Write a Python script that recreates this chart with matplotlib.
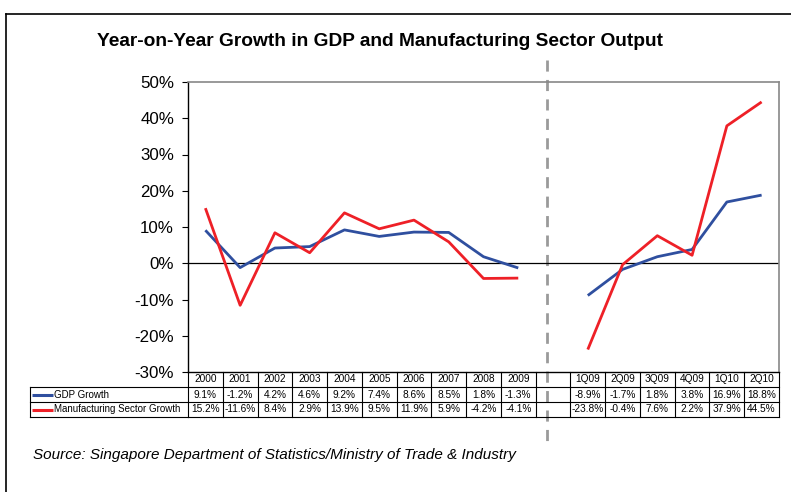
import numpy as np
import matplotlib.pyplot as plt
from matplotlib.lines import Line2D
import matplotlib.transforms as mtransforms

plt.rcParams['font.family'] = ['Liberation Sans', 'DejaVu Sans']

# Data
categories = ['2000', '2001', '2002', '2003', '2004', '2005', '2006', '2007',
              '2008', '2009', '', '1Q09', '2Q09', '3Q09', '4Q09', '1Q10', '2Q10']
gdp = [9.1, -1.2, 4.2, 4.6, 9.2, 7.4, 8.6, 8.5, 1.8, -1.3, None,
       -8.9, -1.7, 1.8, 3.8, 16.9, 18.8]
mfg = [15.2, -11.6, 8.4, 2.9, 13.9, 9.5, 11.9, 5.9, -4.2, -4.1, None,
       -23.8, -0.4, 7.6, 2.2, 37.9, 44.5]
series_names = ['GDP Growth', 'Manufacturing Sector Growth']
yticks = [-30, -20, -10, 0, 10, 20, 30, 40, 50]

BLUE = '#2f4f9f'
RED = '#ee2027'

W, H = 791, 492
fig = plt.figure(figsize=(W / 100, H / 100), dpi=100)

# plot area in pixels
L, R, T, B = 188, 779, 82, 372
ax = fig.add_axes([L / W, 1 - B / H, (R - L) / W, (B - T) / H])

x = np.arange(len(categories))
gdp_arr = np.array([np.nan if v is None else v for v in gdp])
mfg_arr = np.array([np.nan if v is None else v for v in mfg])
ax.plot(x, gdp_arr, color=BLUE, lw=2.0, solid_capstyle='butt', zorder=3)
ax.plot(x, mfg_arr, color=RED, lw=2.0, solid_capstyle='butt', zorder=4)
ax.axhline(0, color='black', lw=0.9, zorder=2)

ax.set_xlim(-0.5, len(categories) - 0.5)
ax.set_ylim(-30, 50)
ax.set_yticks(yticks)
ax.set_yticklabels([f'{v}%' for v in yticks], fontsize=12.2)
ax.set_xticks([])
ax.tick_params(axis='y', direction='out', length=4, width=0.8, pad=6)
for s in ['top', 'right']:
    ax.spines[s].set_color('#888888')
    ax.spines[s].set_linewidth(1.2)
ax.spines['left'].set_color('black')
ax.spines['bottom'].set_color('black')
ax.spines['left'].set_linewidth(1.0)
ax.spines['bottom'].set_linewidth(1.0)

# Table below the axes (x in data units, y in axes fraction)
trans = mtransforms.blended_transform_factory(ax.transData, ax.transAxes)
row_h = 15 / (B - T)
y_rows = [0, -row_h, -2 * row_h, -3 * row_h]
label_left = ax.transAxes.inverted().transform(fig.transFigure.transform((30 / W, 0)))[0]
n = len(categories)

lkw = dict(color='black', lw=0.8, clip_on=False)
# horizontal lines
for yy in (y_rows[1], y_rows[2], y_rows[3]):
    ax.plot([-0.5, n - 0.5], [yy, yy], transform=trans, **lkw)
    ax.plot([label_left, 0], [yy, yy], transform=ax.transAxes, **lkw)
# vertical lines
for i in range(n + 1):
    ax.plot([i - 0.5, i - 0.5], [0, y_rows[3]], transform=trans, **lkw)
ax.plot([label_left, label_left], [y_rows[1], y_rows[3]], transform=ax.transAxes, **lkw)

fs = 7.3
for i, c in enumerate(categories):
    ax.text(i, (y_rows[0] + y_rows[1]) / 2, c, transform=trans, ha='center',
            va='center', fontsize=fs)
for r, (vals, col, name) in enumerate(zip([gdp, mfg], [BLUE, RED], series_names)):
    yc = (y_rows[r + 1] + y_rows[r + 2]) / 2
    for i, v in enumerate(vals):
        if v is not None:
            ax.text(i, yc, f'{v}%', transform=trans, ha='center', va='center',
                    fontsize=fs)
    x0 = label_left + 1.5 / (R - L)
    ax.plot([x0, x0 + 21 / (R - L)], [yc, yc], transform=ax.transAxes,
            color=col, lw=2.2, clip_on=False, solid_capstyle='butt')
    ax.text(x0 + 23 / (R - L), yc, name, transform=ax.transAxes, ha='left',
            va='center', fontsize=7.0)

# dashed separator between annual and quarterly data
sep_x = 9.82
ax.plot([sep_x, sep_x], [(B - 60) / (B - T), -(445 - B) / (B - T)], transform=trans,
        color='#9a9a9a', lw=2.0, ls=(0, (4, 3)), clip_on=False, zorder=1)

# title and source
fig.text(380 / W, 1 - 41 / H, 'Year-on-Year Growth in GDP and Manufacturing Sector Output',
         ha='center', va='center', fontsize=13.8, fontweight='bold')
fig.text(33 / W, 1 - 455 / H,
         'Source: Singapore Department of Statistics/Ministry of Trade & Industry',
         ha='left', va='center', fontsize=11, style='italic')

# outer frame
fig.add_artist(Line2D([6 / W, 6 / W], [0, 1 - 14 / H], transform=fig.transFigure,
                      color='black', lw=1.2))
fig.add_artist(Line2D([6 / W, 1], [1 - 14 / H, 1 - 14 / H], transform=fig.transFigure,
                      color='black', lw=1.2))

fig.savefig('out.png', dpi=100)
